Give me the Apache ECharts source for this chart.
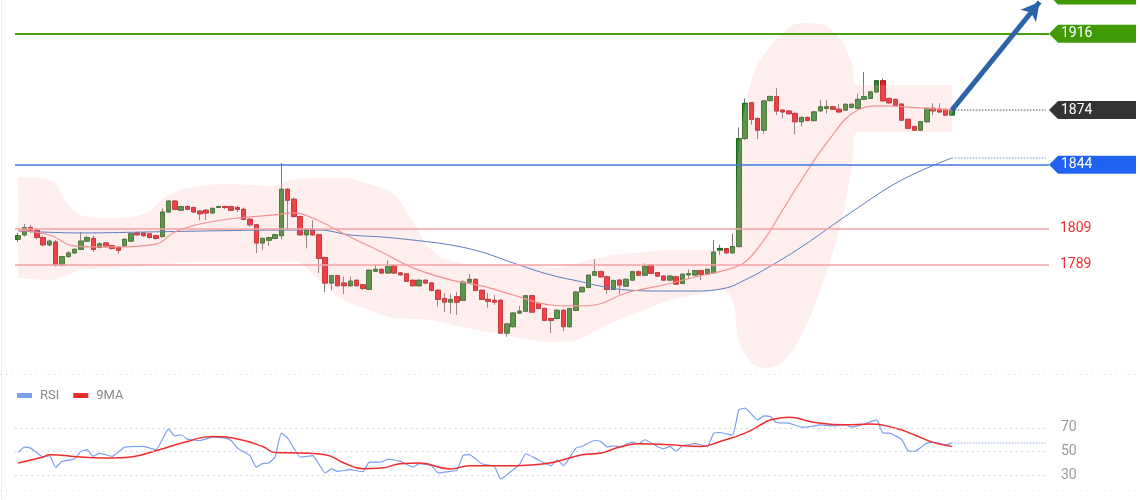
<!DOCTYPE html>
<html>
<head>
<meta charset="utf-8">
<title>Price chart with RSI</title>
<script src="https://cdn.jsdelivr.net/npm/echarts@6/dist/echarts.min.js"></script>
<style>
  html, body { margin: 0; padding: 0; background: #fff; }
  #chart { width: 1140px; height: 500px; }
</style>
</head>
<body>
<div id="chart"></div>
<script>
// candles (one per slot, 150 of them), the axis has room for 15 more on the right
const slotCount = 165;
const slots = Array.from({ length: slotCount }, (_, i) => String(i));

const opens = [
  1803, 1805.5, 1809.5, 1808, 1804, 1800, 1801.5, 1789, 1793.5, 1795.5,
  1797.5, 1802, 1803.5, 1798.5, 1801, 1799.5, 1798.5, 1799.5, 1802, 1806.5,
  1806.5, 1806, 1805, 1804.5, 1818, 1824, 1819, 1821, 1820.5, 1818.5,
  1819, 1817.5, 1820.5, 1821, 1821, 1820.5, 1819.5, 1814, 1811, 1801,
  1802.5, 1803.5, 1805, 1830.5, 1825, 1815.5, 1805.5, 1808.5, 1805.5, 1793,
  1779, 1783, 1779, 1777.5, 1780.5, 1778, 1775.5, 1785.5, 1786.5, 1784.5,
  1788.5, 1784.5, 1784, 1780.5, 1777.5, 1780.5, 1779, 1775, 1770.5, 1768.5,
  1771.5, 1769.5, 1779.5, 1781, 1775, 1770, 1769.5, 1769.5, 1751.5, 1755,
  1762.5, 1763.5, 1772, 1767.5, 1765, 1759.5, 1759.5, 1764, 1755, 1764,
  1774.2, 1776.6, 1783.3, 1785.2, 1782.4, 1775.5, 1780.6, 1777.3, 1780.6, 1785.2,
  1783.3, 1788.8, 1784.7, 1782.8, 1780.6, 1782.4, 1778.8, 1783.5, 1783.4, 1785.8,
  1784, 1784.6, 1797, 1797.8, 1795.6, 1799, 1858.4, 1878, 1869.4, 1863,
  1879.2, 1881.4, 1874, 1873.5, 1872.2, 1867.6, 1870, 1868.2, 1873.6, 1875,
  1875.8, 1874.5, 1874, 1875.5, 1875, 1880, 1880.4, 1884, 1890.1, 1880.4,
  1879.9, 1877.3, 1868.9, 1864.9, 1863, 1867.6, 1875, 1874.5, 1874.4, 1871.3
];
const closes = [
  1805, 1809.5, 1808, 1804, 1800, 1802, 1789, 1793.5, 1795.5, 1797.5,
  1802, 1804, 1797.5, 1800.5, 1799, 1798, 1797, 1803, 1806, 1805.5,
  1805, 1804, 1803.5, 1818, 1824, 1819.5, 1821, 1819.5, 1818, 1817,
  1817.5, 1820, 1821, 1820.5, 1819, 1819.5, 1814, 1811, 1801, 1803.5,
  1804, 1805.5, 1830.5, 1824.5, 1815.5, 1805.5, 1808.5, 1805.5, 1792.5, 1779,
  1783, 1777.5, 1777.5, 1780, 1777.5, 1776, 1786, 1786.5, 1784.5, 1788,
  1784.5, 1783.5, 1780, 1777.5, 1780.5, 1779, 1775, 1770, 1768.5, 1770,
  1768.5, 1779.5, 1781, 1775, 1770, 1769, 1768.5, 1751.5, 1756.5, 1762.5,
  1763.5, 1772, 1763, 1765, 1758.5, 1758.5, 1764, 1755, 1765, 1774,
  1776.6, 1783.3, 1785.2, 1782.4, 1775.5, 1780.3, 1777.9, 1781, 1785.2, 1783.3,
  1788.3, 1784.3, 1782.8, 1780.6, 1782.8, 1778.4, 1783.8, 1784.2, 1785.8, 1783.8,
  1786.5, 1796, 1798, 1795.6, 1799, 1858.4, 1877.7, 1868.9, 1863, 1879,
  1881.5, 1873.5, 1873, 1872, 1867.6, 1870, 1868.3, 1873, 1875.8, 1875.8,
  1874.5, 1873, 1877.2, 1877.2, 1879.9, 1881.4, 1884, 1890.1, 1879.1, 1878,
  1876.7, 1868.5, 1864, 1863, 1867.6, 1875, 1873.6, 1873, 1871.3, 1874
];
const lows = [
  1801.5, 1804.5, 1806.5, 1803, 1799, 1799, 1788, 1788, 1793, 1795,
  1797, 1801.5, 1796, 1798, 1798.5, 1797.5, 1795, 1799, 1801.5, 1805,
  1804.5, 1803.5, 1802.5, 1804, 1817.5, 1819, 1818.5, 1819, 1817.5, 1813.5,
  1813.5, 1817, 1820, 1819.5, 1818.5, 1818, 1813.5, 1810, 1795.5, 1797,
  1799.5, 1803, 1803, 1808, 1815, 1805, 1798, 1805, 1784.5, 1774,
  1775, 1777, 1773, 1777, 1777, 1775, 1775, 1785, 1784, 1784,
  1784, 1783, 1779.5, 1777, 1777, 1778.5, 1774.5, 1766, 1763, 1762,
  1761.5, 1769, 1779, 1774.5, 1769.5, 1765.5, 1767, 1751, 1749.5, 1754.5,
  1762, 1763, 1762.5, 1764.5, 1758, 1751.5, 1759, 1752.5, 1754.5, 1763.5,
  1774, 1776, 1783, 1782, 1773, 1775, 1773, 1777, 1780, 1783,
  1783, 1784, 1782.3, 1780, 1780, 1778, 1778.3, 1781.5, 1783, 1780.5,
  1783.5, 1784, 1794.5, 1795, 1795, 1798.5, 1857.5, 1866, 1858, 1861,
  1879, 1871.5, 1869.5, 1871.5, 1860.8, 1865, 1867.8, 1867.7, 1873, 1872,
  1874, 1872.5, 1873.5, 1875, 1874.5, 1879.5, 1880, 1883.5, 1878.6, 1877.5,
  1876.2, 1868, 1863.5, 1862.5, 1862.5, 1867.1, 1871.3, 1872.5, 1870.8, 1870.8
];
const highs = [
  1806.5, 1811.5, 1811, 1809, 1805, 1803, 1802.5, 1794, 1796.5, 1798,
  1807, 1805, 1805, 1801.5, 1801.5, 1800, 1799, 1803.5, 1806.5, 1807,
  1807, 1806.5, 1805.5, 1820, 1824.5, 1824.5, 1821.5, 1821.5, 1821, 1819,
  1819.5, 1820.5, 1821.5, 1821.5, 1821.5, 1821.5, 1820.5, 1814.5, 1811.5, 1804,
  1804.5, 1806, 1845, 1831, 1826, 1816, 1809, 1813.5, 1806, 1793.5,
  1783.5, 1783.5, 1782.5, 1782.5, 1781, 1778.5, 1786.5, 1789, 1787, 1791.5,
  1789, 1785, 1784.5, 1781, 1781, 1781, 1779.5, 1775.5, 1773.5, 1773,
  1774, 1780.5, 1784, 1781.5, 1775.5, 1773.5, 1772.5, 1770, 1757, 1763,
  1766.5, 1772.5, 1772.5, 1768, 1765.5, 1760, 1764.5, 1764.5, 1765.5, 1774.5,
  1777, 1783.8, 1792, 1785.8, 1783, 1781, 1781, 1781.5, 1785.8, 1786,
  1789.8, 1789.5, 1785.2, 1783.3, 1783.3, 1783, 1784.3, 1786.5, 1786.3, 1786.3,
  1787, 1802.6, 1800, 1798.3, 1806.3, 1864.5, 1880.4, 1878.5, 1870, 1879.5,
  1882, 1886, 1874.5, 1874, 1872.7, 1870.5, 1870.5, 1873.5, 1879.5, 1879.5,
  1876.3, 1877.5, 1877.7, 1877.7, 1883, 1895, 1884.5, 1890.6, 1891.4, 1880.9,
  1880.4, 1877.8, 1869.4, 1865.4, 1868.1, 1875.5, 1877.8, 1877.8, 1874.9, 1874.5
];

// bollinger band, read at these slots
const bandIdx = [0, 5, 8, 10, 15, 20, 24, 28, 34, 40, 44, 48, 52, 56, 60, 63, 66, 70, 76, 82,
  86, 90, 94, 100, 104, 108, 112, 114, 115, 117, 119, 122, 125, 128, 131, 133, 134, 140, 149];
const bandUpper = [1837.3, 1835.6, 1821.9, 1816.4, 1814.7, 1816.9, 1827.4, 1831.8, 1833.4, 1832.3,
  1835.6, 1836.7, 1836.7, 1833.4, 1827.4, 1812.5, 1797.1, 1790.5, 1788.9, 1788.9,
  1787.3, 1790.5, 1793.8, 1796, 1797.1, 1797.1, 1797.1, 1799.9, 1852.1, 1890.5,
  1904.3, 1916.4, 1921.9, 1921.3, 1913.6, 1900.4, 1887.8, 1887.8, 1887.8];
const bandLower = [1781.8, 1780.7, 1783.4, 1786.2, 1787.3, 1788.4, 1789.5, 1790.5, 1790.5, 1790.5,
  1790.5, 1780.7, 1769.7, 1764.2, 1759.8, 1759.2, 1758.7, 1755.4, 1751.5, 1747.7,
  1746.6, 1748.8, 1755.9, 1764.2, 1769.7, 1772.4, 1775.2, 1769.7, 1747.7, 1735.6,
  1732.3, 1735.6, 1750.4, 1775.2, 1808.1, 1841.1, 1862, 1862, 1862];

// middle band (red) and slow average (blue)
const midIdx = [0, 5, 9, 15, 22, 25, 29, 35, 41, 44, 47, 53, 58, 63, 69, 74, 79, 85, 89, 92,
  97, 103, 108, 113, 116, 119, 122, 125, 129, 134, 138, 144, 149];
const midLine = [1808.1, 1805.4, 1799.3, 1798.8, 1800.4, 1807, 1811.4, 1814.7, 1816.4, 1817.5,
  1814.7, 1804.3, 1796, 1787.3, 1780.7, 1777.4, 1772.4, 1766.9, 1766.4, 1766.9,
  1773.5, 1777.9, 1782.3, 1786.2, 1790.5, 1802.6, 1819.1, 1835.6, 1855.9, 1874.1,
  1876.3, 1875.2, 1874.1];
const slowIdx = [0, 10, 20, 30, 42, 48, 53, 58, 63, 69, 74, 79, 85, 90, 92, 97, 103, 108, 113, 116,
  119, 125, 133, 141, 149];
const slowLine = [1807.6, 1806.5, 1807, 1807.6, 1808.1, 1808.1, 1805.4, 1804.3, 1802.6, 1799.9,
  1796, 1790, 1783.4, 1779.6, 1777.9, 1775.2, 1774.6, 1774.6, 1776.3, 1780.7,
  1786.2, 1798.8, 1818, 1835.6, 1847.7];

// RSI pane
const rsiIdx = [0, 1, 2, 4, 5, 6, 7, 9, 10, 11, 12, 13, 15, 17, 20, 22, 24, 25, 26, 27,
  29, 31, 33, 34, 35, 37, 38, 39, 40, 41, 42, 43, 44, 45, 47, 49, 50, 51, 53, 55,
  56, 58, 59, 61, 63, 64, 66, 67, 69, 70, 71, 72, 74, 76, 77, 79, 80, 81, 83, 85,
  86, 87, 89, 90, 92, 93, 94, 95, 96, 98, 99, 100, 102, 103, 104, 105, 106, 108, 110, 111,
  112, 114, 115, 116, 118, 119, 120, 121, 123, 125, 126, 128, 130, 132, 133, 135, 137, 138, 139, 141,
  142, 143, 145, 146, 147, 148, 149];
const rsiValues = [49.4, 53.9, 53, 45.6, 46.7, 36.9, 41.9, 43.9, 50.3, 51.7, 46.1, 48.9, 46.1, 53.9, 54.4, 51.7, 68.9, 63.3, 64.2, 60.6,
  59.4, 62.2, 61.4, 59.4, 53, 46.7, 37.2, 40, 40.5, 45.6, 65.6, 61.4, 53, 45.6, 46.7, 32.2, 35.6, 33.6, 35, 33.3,
  41.1, 41.4, 43.9, 41.9, 37.2, 40, 38.3, 32.2, 33.6, 34.4, 46.7, 47.5, 40, 37.8, 27.2, 35, 39.2, 48.3, 43.3, 38.3,
  43.3, 38.3, 53, 54.4, 59.4, 58.6, 53.9, 55, 54, 58, 56.7, 60, 54.4, 52.5, 54.4, 50.3, 55, 56.7, 54.4, 65.6,
  66.1, 64, 85, 86.4, 76.7, 80, 79.4, 74.4, 73.9, 70.6, 70.6, 72.5, 71.7, 72.5, 70.6, 73.1, 76.7, 65.6, 65.6, 60,
  50.8, 50.3, 57.2, 57.8, 57.2, 55.8, 57.2];
const rsiMaIdx = [0, 4, 5, 10, 15, 18, 22, 27, 31, 35, 39, 41, 45, 49, 52, 55, 58, 61, 64, 69,
  72, 77, 84, 90, 93, 96, 99, 104, 109, 112, 116, 119, 120, 123, 127, 132, 136, 140, 143, 146, 149];
const rsiMaValues = [40.6, 45.6, 47.5, 45.6, 44.7, 45.6, 50.8, 58.6, 62.8, 60.6, 54.4, 49.4, 48.9, 47.5, 40.6, 35.8, 36.4, 40, 40.6, 35.6,
  38.3, 38.3, 40, 47.5, 48.9, 53.9, 56.7, 55.8, 54.4, 58.6, 65.6, 74, 76.5, 78.9, 74.7, 72.5, 73.1, 69.7, 64.2, 57.8, 54.4];
const rsiLevels = [70, 50, 30];

// key levels and the projection arrow
const targetLevel = 1916;
const upperTagLevel = 1937;
const lastPrice = 1874;
const pivotLevel = 1844;
const supportLevels = [1809, 1789];
const arrowEndSlot = 163;
const arrowEndValue = 1933.4;

const GREEN = '#2c8a2c', RED = '#ee1c24';
const gridRight = 91;

const pairs = (idx, vals) => idx.map((x, k) => [x, vals[k]]);
const candles = opens.map((o, i) => [o, closes[i], lows[i], highs[i]]);
const bodies = opens.map((o, i) => [o, closes[i], Math.min(o, closes[i]), Math.max(o, closes[i])]);
const lastSlot = opens.length - 1;
const rightSlot = slotCount - 1;

const chart = echarts.init(document.getElementById('chart'));

const option = {
  animation: false,
  backgroundColor: '#fff',
  textStyle: { fontFamily: 'Roboto, sans-serif' },
  legend: {
    data: ['RSI', '9MA'],
    left: 12, top: 384,
    icon: 'rect', itemWidth: 15, itemHeight: 5, itemGap: 14,
    textStyle: { color: '#888', fontSize: 13, padding: [0, 0, 0, 3] }
  },
  grid: [
    { left: 15, right: gridRight, top: 0, height: 374, outerBoundsMode: 'none', containLabel: false },
    { left: 15, right: gridRight, top: 374, height: 116, outerBoundsMode: 'none', containLabel: false }
  ],
  xAxis: [
    { type: 'category', data: slots, gridIndex: 0, show: false, boundaryGap: true },
    { type: 'category', data: slots, gridIndex: 1, show: false, boundaryGap: true }
  ],
  yAxis: [
    { type: 'value', gridIndex: 0, min: 1729, max: 1934.5, show: false, splitLine: { show: false } },
    { type: 'value', gridIndex: 1, min: 18, max: 115, show: false, splitLine: { show: false } }
  ],
  series: [
    {
      name: 'bandBase', type: 'line', stack: 'band', silent: true,
      data: pairs(bandIdx, bandLower), smooth: 0.4, symbol: 'none',
      lineStyle: { opacity: 0 }
    },
    {
      name: 'band', type: 'line', stack: 'band', silent: true,
      data: bandIdx.map((x, k) => [x, bandUpper[k] - bandLower[k]]), smooth: 0.4, symbol: 'none',
      lineStyle: { opacity: 0 },
      areaStyle: { color: 'rgba(250, 185, 185, 0.34)' }
    },
    {
      name: 'slow', type: 'line', data: pairs(slowIdx, slowLine), smooth: 0.4, symbol: 'none',
      lineStyle: { color: '#5a7dc2', width: 1 },
      markLine: {
        silent: true, symbol: 'none',
        label: {
          show: true, position: 'end', distance: 11,
          color: '#f52d2d', fontSize: 14, formatter: '{c}'
        },
        data: [
          { yAxis: targetLevel, lineStyle: { color: '#47a00c', width: 2, type: 'solid' }, label: { show: false } },
          { yAxis: pivotLevel, lineStyle: { color: '#3f78e0', width: 1.5, type: 'solid' }, label: { show: false } },
          { yAxis: supportLevels[0], lineStyle: { color: '#f5a3a3', width: 1.5, type: 'solid' } },
          { yAxis: supportLevels[1], lineStyle: { color: '#f5a3a3', width: 1.5, type: 'solid' } },
          [
            { coord: [lastSlot, slowLine[slowLine.length - 1]], lineStyle: { color: '#9fb6e8', width: 1.5, type: 'dotted' }, label: { show: false } },
            { coord: [rightSlot, slowLine[slowLine.length - 1]] }
          ]
        ]
      }
    },
    {
      name: 'mid', type: 'line', data: pairs(midIdx, midLine), smooth: 0.4, symbol: 'none',
      lineStyle: { color: '#f39190', width: 1.2 }
    },
    {
      name: 'wicks', type: 'candlestick', data: candles, barWidth: 5,
      itemStyle: { color: GREEN, color0: RED, borderColor: '#777', borderColor0: '#777', borderWidth: 1 },
      markLine: {
        silent: true, symbol: 'none', label: { show: false },
        data: [[
          { coord: [lastSlot, lastPrice], lineStyle: { color: '#8a8a8a', width: 1.5, type: 'dotted' } },
          { coord: [rightSlot, lastPrice] }
        ]]
      }
    },
    {
      name: 'bodies', type: 'candlestick', data: bodies, barWidth: 5,
      itemStyle: { color: GREEN, color0: RED, borderColor: '#1c661c', borderColor0: '#b8141a', borderWidth: 1 },
      markLine: {
        silent: true, symbol: ['none', 'arrow'], symbolSize: [15, 18],
        label: { show: false },
        data: [[
          { coord: [lastSlot, lastPrice], lineStyle: { color: '#2c62a6', width: 5, type: 'solid' } },
          { coord: [arrowEndSlot, arrowEndValue] }
        ]]
      }
    },
    {
      name: 'RSI', type: 'line', xAxisIndex: 1, yAxisIndex: 1,
      data: pairs(rsiIdx, rsiValues), symbol: 'none', smooth: 0.15,
      color: '#7b9ef0',
      lineStyle: { color: '#7b9ef0', width: 1.2 },
      markLine: {
        silent: true, symbol: 'none',
        label: { show: true, position: 'end', distance: 12, color: '#999', fontSize: 14, formatter: '{c}' },
        lineStyle: { color: '#c9c9cf', width: 1.2, type: [1.5, 4] },
        data: rsiLevels.map(v => ({ yAxis: v })).concat([[
          { coord: [lastSlot, rsiValues[rsiValues.length - 1]], lineStyle: { color: '#b4c6f2', width: 1.5, type: 'dotted' }, label: { show: false } },
          { coord: [rightSlot, rsiValues[rsiValues.length - 1]] }
        ]])
      }
    },
    {
      name: '9MA', type: 'line', xAxisIndex: 1, yAxisIndex: 1,
      data: pairs(rsiMaIdx, rsiMaValues), symbol: 'none', smooth: 0.5,
      color: '#f02b2b',
      lineStyle: { color: '#f02b2b', width: 1.5 }
    }
  ]
};

chart.setOption(option);

// price tags on the right, placed from the y scale
const tagX = chart.getWidth() - gridRight;
const tagEnd = 1136;
const tags = [
  { value: upperTagLevel, color: '#3f9a05', text: '' },
  { value: targetLevel, color: '#3f9a05', text: String(targetLevel) },
  { value: lastPrice, color: '#333333', text: String(lastPrice) },
  { value: pivotLevel, color: '#1f63f0', text: String(pivotLevel) }
];
const tagGraphics = tags.map(t => {
  const y = chart.convertToPixel({ yAxisIndex: 0 }, t.value);
  return {
    type: 'group',
    z: 100,
    children: [
      {
        type: 'polygon',
        shape: { points: [[tagX, y], [tagX + 9, y - 9], [tagEnd, y - 9], [tagEnd, y + 9], [tagX + 9, y + 9]] },
        style: { fill: t.color }
      },
      {
        type: 'text', x: tagX + 12, y: y,
        style: { text: t.text, fill: '#fff', font: '14px Roboto, sans-serif', verticalAlign: 'middle' }
      }
    ]
  };
});

chart.setOption({
  graphic: [
    // pane separators and left frame
    { type: 'line', silent: true, shape: { x1: 0, y1: 374.5, x2: 1140, y2: 374.5 },
      style: { stroke: '#d9d9d9', lineWidth: 1, lineDash: [1, 5] } },
    { type: 'line', silent: true, shape: { x1: 0, y1: 490.5, x2: 1140, y2: 490.5 },
      style: { stroke: '#e2e2e2', lineWidth: 1, lineDash: [1, 5] } },
    { type: 'line', silent: true, shape: { x1: 1.5, y1: 0, x2: 1.5, y2: 500 },
      style: { stroke: '#e6edf3', lineWidth: 1 } }
  ].concat(tagGraphics)
});
</script>
</body>
</html>
